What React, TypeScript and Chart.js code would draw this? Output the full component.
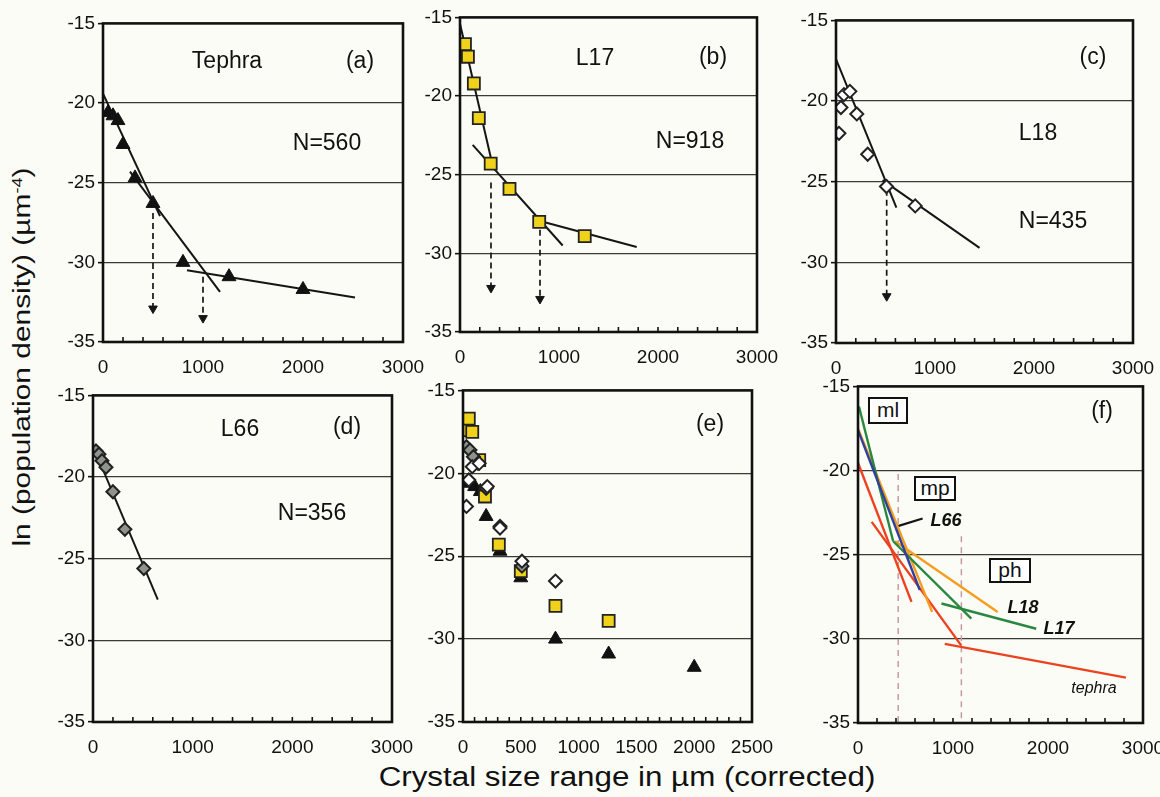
import React, { useEffect, useRef } from 'react';
import { Chart, registerables } from 'chart.js';
Chart.register(...registerables);

// ---------------- data ----------------
// crystal size (µm) and ln(population density)
const tephraX = [50, 100, 150, 200, 320, 500, 800, 1260, 2000];
const tephraY = [-20.6, -20.8, -21.1, -22.6, -24.7, -26.3, -30.0, -30.9, -31.7];
const l17X = [20, 50, 80, 140, 190, 310, 500, 800, 1260];
const l17Y = [-17.4, -16.7, -17.5, -19.2, -21.4, -24.3, -25.9, -28.0, -28.9];
const l18X = [30, 50, 80, 140, 210, 320, 510, 800];
const l18Y = [-22.0, -20.4, -19.6, -19.4, -20.8, -23.3, -25.3, -26.5];
const l66X = [30, 60, 90, 130, 200, 320, 510];
const l66Y = [-18.4, -18.6, -19.0, -19.4, -20.9, -23.2, -25.6];

// fitted segments [x1, y1, x2, y2]
const tephraFits = [[-30, -19.0, 570, -27.1], [270, -24.3, 1170, -31.85], [840, -30.5, 2520, -32.2]];
const l17Fits = [[0, -15.4, 340, -24.7], [128, -23.1, 1037, -29.5], [780, -27.9, 1785, -29.6]];
const l18Fits = [[0, -17.4, 610, -26.6], [470, -24.9, 1450, -29.1]];
const l66Fits = [[0, -18.1, 650, -27.5]];

// dashed arrows [x, yFrom, yTo]
const tephraArrows = [[500, -26.9, -32.9], [1000, -30.9, -33.5]];
const l17Arrows = [[313, -25.5, -32.2], [808, -28.5, -32.9]];
const l18Arrows = [[512, -25.5, -32.1]];

// panel (f) summary lines
const fRed = [[-30, -19.1, 563, -27.8], [144, -23.05, 1088, -30.4], [913, -30.3, 2820, -32.3]];
const fOrange = [[0, -17.5, 780, -28.4], [390, -24.2, 1470, -28.4]];
const fGreen = [[10, -16.2, 370, -24.2], [370, -24.2, 1193, -28.8], [878, -27.9, 1876, -29.4]];
const fBlue = [[0, -17.6, 650, -27.1]];
const fBoundaries = [[423, -20.2, -35], [1088, -23.9, -35]];
const fLeader = [[420, -23.3, 680, -22.85]];

const yTicks = [-35, -30, -25, -20, -15];

// ---------------- helpers ----------------
const FONT = "'Liberation Sans', Arial, Helvetica, sans-serif";
const pts = (xs: number[], ys: number[]) => xs.map((x, i) => ({ x, y: ys[i] }));
const seg = (s: number[]) => [{ x: s[0], y: s[1] }, { x: s[2], y: s[3] }];

const fitDs = (s: number[], color = '#151515', width = 2) => ({
  data: seg(s), showLine: true, borderColor: color, borderWidth: width, pointRadius: 0, fill: false,
});
const arrowDs = (a: number[]) => ({
  data: [{ x: a[0], y: a[1] }, { x: a[0], y: a[2] }], showLine: true, borderColor: '#151515', borderWidth: 1.7,
  borderDash: [6, 4], pointRadius: [0, 5], pointStyle: 'triangle', pointRotation: 180,
  pointBackgroundColor: '#151515', pointBorderColor: '#151515', pointBorderWidth: 1,
});
const vDash = (a: number[]) => ({
  data: [{ x: a[0], y: a[1] }, { x: a[0], y: a[2] }], showLine: true, borderColor: '#c79aa2', borderWidth: 1.5,
  borderDash: [6, 5], pointRadius: 0,
});
const tephraDs = () => ({ data: pts(tephraX, tephraY), pointStyle: 'triangle', pointRadius: 8, pointBackgroundColor: '#111', pointBorderColor: '#111', pointBorderWidth: 1, showLine: false });
const l17Ds = () => ({ data: pts(l17X, l17Y), pointStyle: 'rect', pointRadius: 8.5, pointBackgroundColor: '#f0d21a', pointBorderColor: '#222', pointBorderWidth: 1.8, showLine: false });
const l18Ds = () => ({ data: pts(l18X, l18Y), pointStyle: 'rectRot', pointRadius: 6.5, pointBackgroundColor: '#ffffff', pointBorderColor: '#222', pointBorderWidth: 2, showLine: false });
const l66Ds = () => ({ data: pts(l66X, l66Y), pointStyle: 'rectRot', pointRadius: 6.5, pointBackgroundColor: '#8e948b', pointBorderColor: '#222', pointBorderWidth: 2, showLine: false });

const framePlugin = {
  id: 'frame',
  afterDraw(chart: any) {
    const { ctx, chartArea: a } = chart;
    const xs = chart.scales.x;
    ctx.save();
    ctx.strokeStyle = '#111';
    ctx.lineWidth = 1.6;
    xs.ticks.forEach((t: any) => {
      const px = xs.getPixelForValue(t.value);
      ctx.beginPath();
      ctx.moveTo(px, a.bottom + 1);
      ctx.lineTo(px, a.bottom - 5);
      ctx.stroke();
    });
    ctx.lineWidth = 2.6;
    ctx.strokeRect(a.left, a.top, a.right - a.left, a.bottom - a.top);
    ctx.restore();
  },
};

type Spec = { L: number; T: number; R: number; B: number; xMax: number; xMinor: number; xMajor: number; datasets: any[] };

const PL = 56, PT = 14, PR = 28, PB = 36;

function Panel({ spec }: { spec: Spec }) {
  const ref = useRef<HTMLCanvasElement>(null);
  const w = spec.R - spec.L + PL + PR;
  const h = spec.B - spec.T + PT + PB;
  useEffect(() => {
    const chart = new Chart(ref.current as HTMLCanvasElement, {
      type: 'scatter',
      data: { datasets: spec.datasets },
      options: {
        animation: false,
        responsive: false,
        events: [],
        layout: { padding: { left: 0, top: PT, right: PR, bottom: 0 } },
        plugins: { legend: { display: false }, tooltip: { enabled: false } },
        scales: {
          x: {
            type: 'linear', min: 0, max: spec.xMax,
            afterFit: (s: any) => { s.height = PB; },
            grid: { display: false },
            border: { display: false },
            ticks: {
              stepSize: spec.xMinor, autoSkip: false, maxRotation: 0, padding: 6,
              color: '#111', font: { family: FONT, size: 19 },
              callback: (v: any) => (Math.round(v) % spec.xMajor === 0 ? String(v) : ''),
            },
          },
          y: {
            type: 'linear', min: -35, max: -15,
            afterFit: (s: any) => { s.width = PL; },
            afterBuildTicks: (s: any) => { s.ticks = yTicks.map((v) => ({ value: v })); },
            border: { display: false },
            grid: {
              color: (c: any) => (c.tick && (c.tick.value === -15 || c.tick.value === -35) ? 'rgba(0,0,0,0)' : '#3b3b36'),
              lineWidth: 1.3, tickLength: 5, tickColor: '#111', tickWidth: 1.6,
            },
            ticks: { padding: 3, color: '#111', font: { family: FONT, size: 19 } },
          },
        },
      } as any,
      plugins: [framePlugin],
    });
    return () => chart.destroy();
  }, []);
  return (
    <canvas ref={ref} width={w} height={h}
      style={{ position: 'absolute', left: spec.L - PL, top: spec.T - PT, width: w, height: h }} />
  );
}

const panels: Spec[] = [
  { L: 103, T: 23, R: 403, B: 342, xMax: 3000, xMinor: 200, xMajor: 1000,
    datasets: [tephraDs(), ...tephraArrows.map(arrowDs), ...tephraFits.map((s) => fitDs(s))] },
  { L: 460, T: 17, R: 757, B: 332, xMax: 3000, xMinor: 200, xMajor: 1000,
    datasets: [l17Ds(), ...l17Arrows.map(arrowDs), ...l17Fits.map((s) => fitDs(s))] },
  { L: 836, T: 20, R: 1133, B: 343, xMax: 3000, xMinor: 200, xMajor: 1000,
    datasets: [l18Ds(), ...l18Arrows.map(arrowDs), ...l18Fits.map((s) => fitDs(s))] },
  { L: 93, T: 395, R: 392, B: 722, xMax: 3000, xMinor: 200, xMajor: 1000,
    datasets: [l66Ds(), ...l66Fits.map((s) => fitDs(s))] },
  { L: 463, T: 390, R: 752, B: 722, xMax: 2500, xMinor: 100, xMajor: 500,
    datasets: [l18Ds(), l66Ds(), l17Ds(), tephraDs()] },
  { L: 858, T: 386, R: 1143, B: 723, xMax: 3000, xMinor: 200, xMajor: 1000,
    datasets: [
      ...fBlue.map((s) => fitDs(s, '#30409c', 2.4)),
      ...fGreen.map((s) => fitDs(s, '#2a8740', 2.4)),
      ...fOrange.map((s) => fitDs(s, '#f59d1e', 2.4)),
      ...fRed.map((s) => fitDs(s, '#ec4220', 2.4)),
      ...fLeader.map((s) => fitDs(s, '#151515', 2.2)),
      ...fBoundaries.map(vDash),
    ] },
];

const Label = ({ x, y, size = 22, italic = false, bold = false, text }: any) => (
  <div style={{
    position: 'absolute', left: x, top: y, transform: 'translate(-50%, -50%)', whiteSpace: 'nowrap',
    fontSize: size, lineHeight: 1, fontStyle: italic ? 'italic' : 'normal', fontWeight: bold ? 'bold' : 'normal',
  }}>{text}</div>
);

const Box = ({ x, y, w, h, text }: any) => (
  <div style={{
    position: 'absolute', left: x - w / 2, top: y - h / 2, width: w, height: h, boxSizing: 'border-box',
    border: '2px solid #111', background: '#fff', fontSize: 21, lineHeight: `${h - 6}px`, textAlign: 'center',
  }}>{text}</div>
);

export default function App() {
  return (
    <div style={{
      position: 'absolute', left: 0, top: 0, width: 1160, height: 797, overflow: 'hidden',
      background: '#fcfcf6', fontFamily: FONT, color: '#111',
    }}>
      {panels.map((p, i) => <Panel key={i} spec={p} />)}

      <Label x={227} y={60} size={23} text="Tephra" />
      <Label x={360} y={60} size={23} text="(a)" />
      <Label x={327} y={142} size={23} text="N=560" />

      <Label x={595} y={57} size={23} text="L17" />
      <Label x={713} y={56} size={23} text="(b)" />
      <Label x={690} y={140} size={23} text="N=918" />

      <Label x={1093} y={56} size={23} text="(c)" />
      <Label x={1038} y={132} size={23} text="L18" />
      <Label x={1053} y={220} size={23} text="N=435" />

      <Label x={240} y={428} size={23} text="L66" />
      <Label x={347} y={426} size={23} text="(d)" />
      <Label x={312} y={512} size={23} text="N=356" />

      <Label x={710} y={423} size={23} text="(e)" />

      <Label x={1102} y={410} size={23} text="(f)" />
      <Box x={888} y={410} w={40} h={27} text="ml" />
      <Box x={935} y={488} w={42} h={25} text="mp" />
      <Box x={1010} y={570} w={42} h={25} text="ph" />
      <Label x={946} y={520} size={18} italic bold text="L66" />
      <Label x={1023} y={607} size={18} italic bold text="L18" />
      <Label x={1059} y={628} size={18} italic bold text="L17" />
      <Label x={1094} y={688} size={16} italic text="tephra" />

      <div style={{
        position: 'absolute', left: 22, top: 357, transform: 'translate(-50%, -50%) rotate(-90deg) scaleX(1.3)',
        whiteSpace: 'nowrap', fontSize: 23, lineHeight: 1,
      }}>ln (population density) (µm<sup style={{ fontSize: 14 }}>-4</sup>)</div>

      <div style={{
        position: 'absolute', left: 627, top: 777, transform: 'translate(-50%, -50%) scaleX(1.16)',
        whiteSpace: 'nowrap', fontSize: 27, lineHeight: 1,
      }}>Crystal size range in µm (corrected)</div>
    </div>
  );
}
